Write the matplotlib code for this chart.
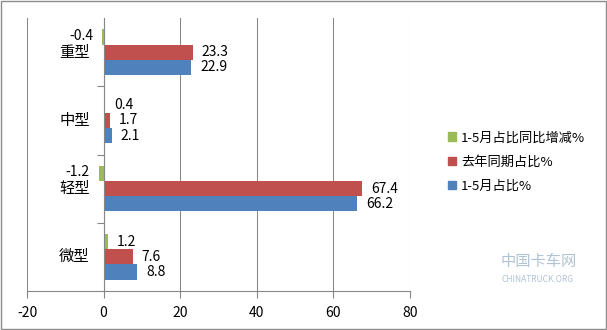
import matplotlib
matplotlib.use("Agg")
import matplotlib.pyplot as plt
from matplotlib.patches import Patch, Rectangle

plt.rcParams["font.family"] = ["Noto Sans CJK SC", "DejaVu Sans"]

categories = ["微型", "轻型", "中型", "重型"]
share_now = [8.8, 66.2, 2.1, 22.9]        # 1-5月占比%
share_last = [7.6, 67.4, 1.7, 23.3]       # 去年同期占比%
share_diff = [1.2, -1.2, 0.4, -0.4]       # 1-5月占比同比增减%
series_names = ["1-5月占比%", "去年同期占比%", "1-5月占比同比增减%"]
x_ticks = [-20, 0, 20, 40, 60, 80]

BLUE = "#4F81BD"
RED = "#C0504D"
GREEN = "#9BBB59"
GRID = "#868686"

fig = plt.figure(figsize=(6.07, 3.30), dpi=100)
fig.patch.set_facecolor("white")
fig.patches.append(Rectangle((0.001, 0.002), 0.997, 0.995, transform=fig.transFigure,
                             fill=False, edgecolor="#8c8c8c", linewidth=1.0))

ax = fig.add_axes([27 / 607, 1 - 291 / 330, 383 / 607, 273 / 330])

bar_h = 0.222
series = [(share_now, BLUE, -bar_h), (share_last, RED, 0.0), (share_diff, GREEN, bar_h)]
for values, color, offset in series:
    ys = [i + offset for i in range(len(categories))]
    ax.barh(ys, values, height=bar_h, color=color, zorder=3)
    for y, v in zip(ys, values):
        if v >= 0:
            ax.annotate(f"{v:.1f}", (v, y), xytext=(6.5, 0), textcoords="offset points",
                        ha="left", va="center", fontsize=10, color="black")
        else:
            ax.annotate(f"{v:.1f}", (v, y), xytext=(-6.5, 1), textcoords="offset points",
                        ha="right", va="center", fontsize=10, color="black")

ax.set_xlim(-20, 80)
ax.set_ylim(-0.5, 3.5)
ax.set_xticks(x_ticks)
ax.set_xticklabels([str(t) for t in x_ticks], fontsize=10)
ax.grid(axis="x", color=GRID, linewidth=0.75, zorder=0)
ax.set_axisbelow(True)

# category axis sits at x = 0
ax.spines["left"].set_position(("data", 0))
ax.spines["left"].set_color(GRID)
ax.spines["left"].set_zorder(4)
ax.spines["bottom"].set_color(GRID)
ax.spines["top"].set_visible(False)
ax.spines["right"].set_visible(False)
ax.set_yticks([0.5, 1.5, 2.5])
ax.set_yticklabels([])
ax.tick_params(axis="y", length=5, color=GRID, direction="out")
ax.tick_params(axis="x", length=5, color=GRID, direction="out", pad=6)

for i, name in enumerate(categories):
    ax.annotate(name, (0, i), xytext=(-10, 0), textcoords="offset points",
                ha="right", va="center", fontsize=11)

handles = [Patch(color=GREEN), Patch(color=RED), Patch(color=BLUE)]
fig.legend(handles, series_names[::-1], loc="center left",
           bbox_to_anchor=(436 / 607, 1 - 162 / 330), frameon=False, fontsize=9.5,
           handlelength=0.6, handleheight=0.6, handletextpad=0.4, labelspacing=0.85)

# faint watermark
fig.text(0.825, 0.195, "中国卡车网", fontsize=11, color="#9db4c8", alpha=0.8)
fig.text(0.826, 0.145, "CHINATRUCK.ORG", fontsize=6, color="#9db4c8", alpha=0.8)

fig.savefig("out.png", dpi=100)
